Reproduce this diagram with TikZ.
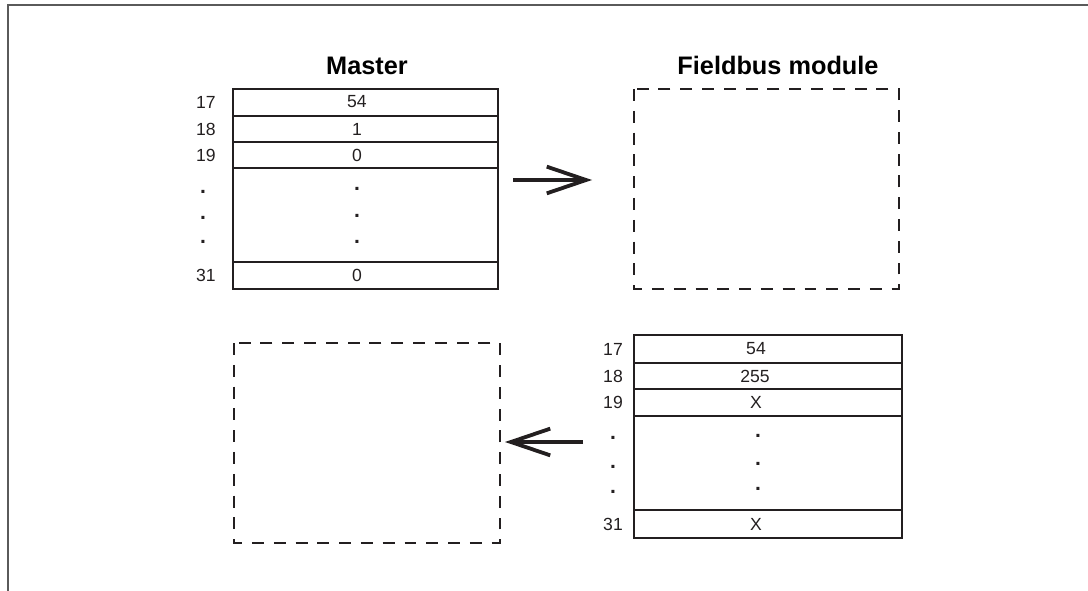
\documentclass[tikz,border=0pt]{standalone}
\usepackage{fontspec}
\setmainfont{Liberation Sans}
\usetikzlibrary{arrows.meta}
\definecolor{ink}{RGB}{35,31,32}
\definecolor{rulegray}{RGB}{90,90,90}
\tikzset{
  cell/.style={draw=ink, line width=1.9pt},
  dashbox/.style={draw=ink, line width=1.8pt, dash pattern=on 8.5pt off 7pt},
  num/.style={text=ink, inner sep=0pt, font=\fontsize{12.5}{14}\selectfont},
  dotnum/.style={text=ink, inner sep=0pt, font=\bfseries\fontsize{15}{17}\selectfont},
  head/.style={text=black, inner sep=0pt, font=\bfseries\fontsize{18}{21}\selectfont},
  flow/.style={draw=ink, line width=2.7pt, -{Straight Barb[length=28pt,width=19pt]}}
}
\begin{document}
\begin{tikzpicture}[x=0.025cm,y=-0.025cm]
\useasboundingbox (0,0) rectangle (1088,591);
\draw[rulegray, line width=0.9pt] (1088,5) -- (8,5) -- (8,591);
% master
\node[head] (master) at (367,66) {Master};
\draw[cell] (233,89) rectangle (498,116);
\draw[cell] (233,116) rectangle (498,142);
\draw[cell] (233,142) rectangle (498,168);
\draw[cell] (233,168) rectangle (498,262);
\draw[cell] (233,262) rectangle (498,289);
\node[num] (m17) at (206,102) {17};
\node[num] (m18) at (206,129) {18};
\node[num] (m19) at (206,155) {19};
\node[dotnum] (md1) at (203,192) {.};
\node[dotnum] (md2) at (203,218) {.};
\node[dotnum] (md3) at (203,242) {.};
\node[num] (m31) at (206,275) {31};
\node[num] (mv17) at (357,102) {54};
\node[num] (mv18) at (357,129) {1};
\node[num] (mv19) at (357,155) {0};
\node[dotnum] (mvd1) at (357,189) {.};
\node[dotnum] (mvd2) at (357,216) {.};
\node[dotnum] (mvd3) at (357,242) {.};
\node[num] (mv31) at (357,275) {0};
% fieldbus module
\node[head] (fieldbus) at (778,65) {Fieldbus module};
\draw[dashbox] (634,89) rectangle (899,289);
\coordinate (toFb) at (513,180);
\coordinate (atFb) at (592,180);
\draw[flow] (toFb) -- (atFb);
% answer
\draw[dashbox] (234,343) rectangle (500,543);
\draw[cell] (634,335) rectangle (902,363);
\draw[cell] (634,363) rectangle (902,389);
\draw[cell] (634,389) rectangle (902,416);
\draw[cell] (634,416) rectangle (902,510);
\draw[cell] (634,510) rectangle (902,538);
\node[num] (f17) at (613,349) {17};
\node[num] (f18) at (613,376) {18};
\node[num] (f19) at (613,402) {19};
\node[dotnum] (fd1) at (613,438) {.};
\node[dotnum] (fd2) at (613,467) {.};
\node[dotnum] (fd3) at (613,492) {.};
\node[num] (f31) at (613,524) {31};
\node[num] (fv17) at (756,349) {54};
\node[num] (fv18) at (755,376) {255};
\node[num] (fv19) at (756,402) {X};
\node[dotnum] (fvd1) at (758,436) {.};
\node[dotnum] (fvd2) at (758,464) {.};
\node[dotnum] (fvd3) at (758,489) {.};
\node[num] (fv31) at (756,524) {X};
\coordinate (fromFb) at (583,442);
\coordinate (atMaster) at (505,442);
\draw[flow] (fromFb) -- (atMaster);
\end{tikzpicture}
\end{document}
